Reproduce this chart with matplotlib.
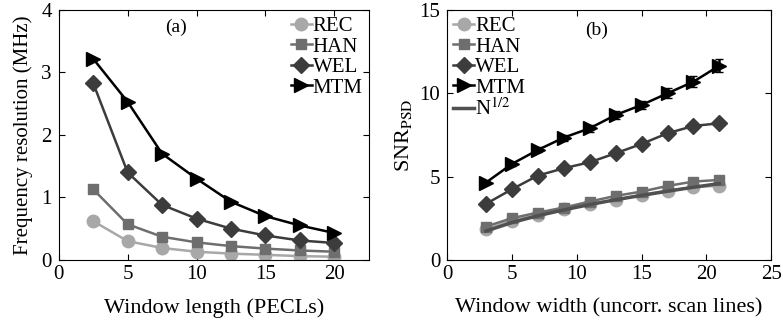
import matplotlib
matplotlib.use('Agg')
import matplotlib.pyplot as plt

plt.rcParams['font.family'] = ['Liberation Serif', 'DejaVu Serif']
plt.rcParams['mathtext.fontset'] = 'stix'
plt.rcParams['xtick.direction'] = 'in'
plt.rcParams['ytick.direction'] = 'in'
plt.rcParams['xtick.top'] = True
plt.rcParams['ytick.right'] = True

# (a) frequency resolution vs window length
len_a = [2.5, 5, 7.5, 10, 12.5, 15, 17.5, 20]
rec_a = [0.62, 0.30, 0.19, 0.13, 0.10, 0.08, 0.06, 0.05]
han_a = [1.13, 0.57, 0.37, 0.28, 0.22, 0.18, 0.15, 0.13]
wel_a = [2.83, 1.40, 0.88, 0.66, 0.50, 0.39, 0.31, 0.27]
mtm_a = [3.22, 2.53, 1.70, 1.30, 0.93, 0.70, 0.55, 0.43]

# (b) SNR vs window width
wid_b = [3, 5, 7, 9, 11, 13, 15, 17, 19, 21]
rec_b = [1.84, 2.36, 2.70, 3.04, 3.36, 3.60, 3.90, 4.16, 4.36, 4.46]
han_b = [2.00, 2.50, 2.84, 3.14, 3.50, 3.84, 4.10, 4.44, 4.70, 4.80]
wel_b = [3.36, 4.24, 5.06, 5.50, 5.86, 6.40, 6.96, 7.60, 8.04, 8.20]
mtm_b = [4.64, 5.76, 6.60, 7.34, 7.90, 8.70, 9.30, 10.00, 10.70, 11.66]
mtm_err = [0.10, 0.12, 0.15, 0.18, 0.20, 0.22, 0.25, 0.30, 0.35, 0.40]
sqrt_b = [1.73, 2.24, 2.65, 3.00, 3.32, 3.61, 3.87, 4.12, 4.36, 4.58]

names = ['REC', 'HAN', 'WEL', 'MTM']
colors = ['#a8a8a8', '#6e6e6e', '#3c3c3c', '#000000']
markers = ['o', 's', 'D', '>']
msizes = [9, 7, 8, 10]

fig = plt.figure(figsize=(7.83, 3.24), dpi=100)
ax1 = fig.add_axes([0.075, 0.198, 0.396, 0.771])
ax2 = fig.add_axes([0.571, 0.198, 0.414, 0.771])

for ys, n, c, m, s in zip([rec_a, han_a, wel_a, mtm_a], names, colors, markers, msizes):
    ax1.plot(len_a, ys, color=c, marker=m, markersize=s, lw=1.8, label=n)
ax1.set_xlim(0, 22.5)
ax1.set_ylim(0, 4)
ax1.set_xticks([0, 5, 10, 15, 20])
ax1.set_yticks([0, 1, 2, 3, 4])
ax1.set_xlabel('Window length (PECLs)', fontsize=16, labelpad=10)
ax1.set_ylabel('Frequency resolution (MHz)', fontsize=15, labelpad=6)
ax1.text(8.5, 3.65, '(a)', fontsize=14, ha='center')
ax1.legend(loc='upper right', frameon=False, fontsize=15, handlelength=1.0,
           handletextpad=0.05, labelspacing=0.05, borderaxespad=0.1,
           borderpad=0.2)

hs = []
for ys, c, m, s in zip([rec_b, han_b, wel_b], colors, markers, msizes):
    hs += ax2.plot(wid_b, ys, color=c, marker=m, markersize=s, lw=1.8)
eb = ax2.errorbar(wid_b, mtm_b, yerr=mtm_err, color='black', marker='>', markersize=10,
                  lw=1.8, capsize=3)
hs.append(eb.lines[0])
hs += ax2.plot(wid_b, sqrt_b, color='#505050', lw=2.5)
ax2.set_xlim(0, 25)
ax2.set_ylim(0, 15)
ax2.set_xticks([0, 5, 10, 15, 20, 25])
ax2.set_yticks([0, 5, 10, 15])
ax2.set_xlabel('Window width (uncorr. scan lines)', fontsize=16, labelpad=10)
ax2.set_ylabel('SNR$_{\\mathrm{PSD}}$', fontsize=16)
ax2.text(11.5, 13.5, '(b)', fontsize=14, ha='center')
ax2.legend(hs, names + ['N$^{1/2}$'], loc='upper left', frameon=False, fontsize=15,
           handlelength=1.0, handletextpad=0.05, labelspacing=0.05,
           borderaxespad=0.1, borderpad=0.2)

for ax in (ax1, ax2):
    ax.tick_params(labelsize=15, length=4)
    ax.tick_params(axis='x', pad=4)
    ax.tick_params(axis='y', pad=5)

fig.savefig('out.png', dpi=100)
